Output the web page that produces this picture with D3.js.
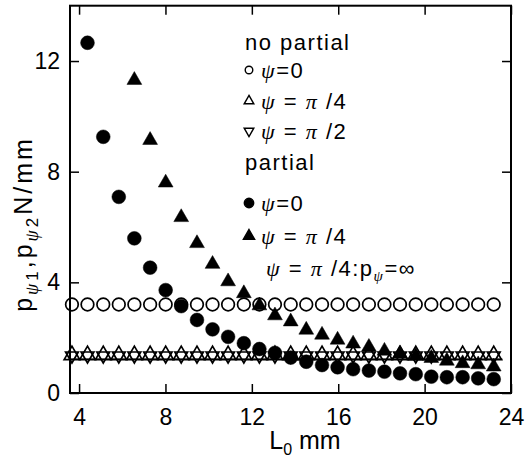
<!DOCTYPE html>
<html>
<head>
<meta charset="utf-8">
<script src="https://cdn.jsdelivr.net/npm/d3@7"></script>
<style>
  body { margin: 0; background: #fff; }
  svg { display: block; font-family: "Liberation Sans", Arial, sans-serif; }
  .greek { font-family: "Liberation Serif", "DejaVu Serif", serif; font-style: italic; }
</style>
</head>
<body>
<svg id="chart" width="529" height="459"></svg>
<script>
// L0 (mm) sample positions
const L0 = [3.67, 4.39, 5.12, 5.84, 6.56, 7.29, 8.01, 8.73, 9.46, 10.18,
            10.90, 11.63, 12.35, 13.07, 13.80, 14.52, 15.25, 15.97, 16.69, 17.42,
            18.14, 18.86, 19.59, 20.31, 21.03, 21.76, 22.48, 23.20];

// no partial
const NP_PSI_0 = [3.2, 3.2, 3.2, 3.2, 3.2, 3.2, 3.2, 3.2, 3.2, 3.2,
                  3.2, 3.2, 3.2, 3.2, 3.2, 3.2, 3.2, 3.2, 3.2, 3.2,
                  3.2, 3.2, 3.2, 3.2, 3.2, 3.2, 3.2, 3.2];
const NP_PSI_PI4 = [1.37, 1.37, 1.37, 1.37, 1.37, 1.37, 1.37, 1.37, 1.37, 1.37,
                    1.37, 1.37, 1.37, 1.37, 1.37, 1.37, 1.37, 1.37, 1.37, 1.37,
                    1.37, 1.37, 1.37, 1.37, 1.37, 1.37, 1.37, 1.37];
const NP_PSI_PI2 = [1.35, 1.35, 1.35, 1.35, 1.35, 1.35, 1.35, 1.35, 1.35, 1.35,
                    1.35, 1.35, 1.35, 1.35, 1.35, 1.35, 1.35, 1.35, 1.35, 1.35,
                    1.35, 1.35, 1.35, 1.35, 1.35, 1.35, 1.35, 1.35];

// partial
const P_PSI_0 = [null, 12.66, 9.26, 7.09, 5.59, 4.53, 3.72, 3.14, 2.64, 2.30,
                 2.03, 1.80, 1.59, 1.45, 1.28, 1.13, 1.01, 0.93, 0.86, 0.81,
                 0.77, 0.71, 0.68, 0.59, 0.57, 0.57, 0.53, 0.50];
const P_PSI_PI4 = [null, null, null, null, 11.31, 9.14, 7.60, 6.35, 5.41, 4.66,
                   4.03, 3.60, 3.16, 2.80, 2.58, 2.28, 2.10, 1.92, 1.78, 1.66,
                   1.52, 1.42, 1.34, 1.26, 1.16, 1.07, 1.03, 0.95];

// psi = pi/4 : p_psi = infinity (limit line)
const LIMIT_L0 = [3.58, 23.6];
const LIMIT_P = [1.22, 1.22];

const X_TICKS = [4, 8, 12, 16, 20, 24];
const Y_TICKS = [0, 4, 8, 12];

const MARGINS = {left: 70, right: 18, top: 5.7, bottom: 66};
const FRAME_WIDTH = 529;
const FRAME_HEIGHT = 459;
const VIS_WIDTH = FRAME_WIDTH - MARGINS.left - MARGINS.right;
const VIS_HEIGHT = FRAME_HEIGHT - MARGINS.top - MARGINS.bottom;

const SVG = d3.select("#chart");

const X_SCALE = d3.scaleLinear()
                  .domain([3.58, 24])
                  .range([MARGINS.left, MARGINS.left + VIS_WIDTH]);

const Y_SCALE = d3.scaleLinear()
                  .domain([0, 14])
                  .range([MARGINS.top + VIS_HEIGHT, MARGINS.top]);

function pts(ys) {
  return L0.map((x, i) => ({x: x, y: ys[i]})).filter(d => d.y !== null);
}

function drawSeries(data, type, size, filled, rotate) {
  SVG.append("g")
    .selectAll("path")
    .data(data)
    .enter()
    .append("path")
      .attr("d", d3.symbol().type(type).size(size))
      .attr("transform", d => "translate(" + X_SCALE(d.x) + "," + Y_SCALE(d.y) + ")" +
                              (rotate ? " rotate(180)" : ""))
      .attr("fill", filled ? "#000" : "none")
      .attr("stroke", "#000")
      .attr("stroke-width", filled ? 0.5 : 1.7);
}

// limit line
SVG.append("path")
  .datum(LIMIT_L0.map((x, i) => ({x: x, y: LIMIT_P[i]})))
  .attr("d", d3.line().x(d => X_SCALE(d.x)).y(d => Y_SCALE(d.y)))
  .attr("stroke", "#000")
  .attr("stroke-width", 1.5)
  .attr("fill", "none");

drawSeries(pts(NP_PSI_0), d3.symbolCircle, 125, false, false);
drawSeries(pts(NP_PSI_PI4), d3.symbolTriangle, 105, false, false);
drawSeries(pts(NP_PSI_PI2), d3.symbolTriangle, 70, false, true);
drawSeries(pts(P_PSI_0), d3.symbolCircle, 150, true, false);
drawSeries(pts(P_PSI_PI4), d3.symbolTriangle, 95, true, false);

// axes (ticks point inward)
const xBottom = SVG.append("g")
  .attr("transform", "translate(0," + (MARGINS.top + VIS_HEIGHT) + ")")
  .call(d3.axisBottom(X_SCALE).tickValues(X_TICKS).tickSize(-9).tickPadding(16));
const xTop = SVG.append("g")
  .attr("transform", "translate(0," + MARGINS.top + ")")
  .call(d3.axisTop(X_SCALE).tickValues(X_TICKS).tickSize(-9).tickFormat(""));
const yLeft = SVG.append("g")
  .attr("transform", "translate(" + MARGINS.left + ",0)")
  .call(d3.axisLeft(Y_SCALE).tickValues(Y_TICKS).tickSize(-9).tickPadding(10));
const yRight = SVG.append("g")
  .attr("transform", "translate(" + (MARGINS.left + VIS_WIDTH) + ",0)")
  .call(d3.axisRight(Y_SCALE).tickValues(Y_TICKS).tickSize(-9).tickFormat(""));

[xBottom, xTop, yLeft, yRight].forEach(g => {
  g.select(".domain").remove();
  g.selectAll("line").attr("stroke", "#000").attr("stroke-width", 1.5);
  g.selectAll("text").attr("font-size", "23px").attr("fill", "#000")
    .attr("font-family", "Liberation Sans, Arial, sans-serif");
});

SVG.append("rect")
  .attr("x", MARGINS.left)
  .attr("y", MARGINS.top)
  .attr("width", VIS_WIDTH)
  .attr("height", VIS_HEIGHT)
  .attr("fill", "none")
  .attr("stroke", "#000")
  .attr("stroke-width", 2);

// axis titles
const xTitle = SVG.append("text")
  .attr("x", 305)
  .attr("y", 449)
  .attr("text-anchor", "middle")
  .attr("font-size", "25px");
xTitle.append("tspan").text("L");
xTitle.append("tspan").attr("font-size", "16px").attr("dy", 6).text("0");
xTitle.append("tspan").attr("dy", -6).text(" mm");

const yTitle = SVG.append("text")
  .attr("transform", "translate(32,224) rotate(-90)")
  .attr("text-anchor", "middle")
  .attr("font-size", "25px")
  .attr("letter-spacing", "3px");
yTitle.append("tspan").text("p");
yTitle.append("tspan").attr("class", "greek").attr("font-size", "18px").attr("dy", 6).text("ψ");
yTitle.append("tspan").attr("font-size", "17px").text("1");
yTitle.append("tspan").attr("dy", -6).text(",p");
yTitle.append("tspan").attr("class", "greek").attr("font-size", "18px").attr("dy", 6).text("ψ");
yTitle.append("tspan").attr("font-size", "17px").text("2");
yTitle.append("tspan").attr("dy", -6).text("N/mm");

// legend
const LEG_X = 249;
const LEG_TEXT_X = 261;
const LEGEND = SVG.append("g").attr("font-size", "22px").attr("letter-spacing", "1.5px");

LEGEND.append("text").attr("x", 245).attr("y", 50).text("no partial");
LEGEND.append("text").attr("x", 245).attr("y", 170).text("partial");

const LEG_ROWS = [
  {y: 70, type: d3.symbolCircle, size: 45, filled: false, rot: false, label: ["ψ", "=0"]},
  {y: 101, type: d3.symbolTriangle, size: 40, filled: false, rot: false, label: ["ψ", " = ", "π", " /4"]},
  {y: 131, type: d3.symbolTriangle, size: 40, filled: false, rot: true, label: ["ψ", " = ", "π", " /2"]},
  {y: 203, type: d3.symbolCircle, size: 70, filled: true, rot: false, label: ["ψ", "=0"]},
  {y: 236, type: d3.symbolTriangle, size: 55, filled: true, rot: false, label: ["ψ", " = ", "π", " /4"]}
];

LEG_ROWS.forEach(r => {
  LEGEND.append("path")
    .attr("d", d3.symbol().type(r.type).size(r.size))
    .attr("transform", "translate(" + LEG_X + "," + r.y + ")" + (r.rot ? " rotate(180)" : ""))
    .attr("fill", r.filled ? "#000" : "none")
    .attr("stroke", "#000")
    .attr("stroke-width", 1.4);
  const t = LEGEND.append("text").attr("x", LEG_TEXT_X).attr("y", r.y + 8);
  r.label.forEach(s => {
    t.append("tspan").attr("class", (s === "ψ" || s === "π") ? "greek" : null).text(s);
  });
});

const lastRow = LEGEND.append("text").attr("x", 266).attr("y", 276);
lastRow.append("tspan").attr("class", "greek").text("ψ");
lastRow.append("tspan").text(" = ");
lastRow.append("tspan").attr("class", "greek").text("π");
lastRow.append("tspan").text(" /4:p");
lastRow.append("tspan").attr("class", "greek").attr("font-size", "15px").attr("dy", 5).text("ψ");
lastRow.append("tspan").attr("dy", -5).text("=∞");
</script>
</body>
</html>
